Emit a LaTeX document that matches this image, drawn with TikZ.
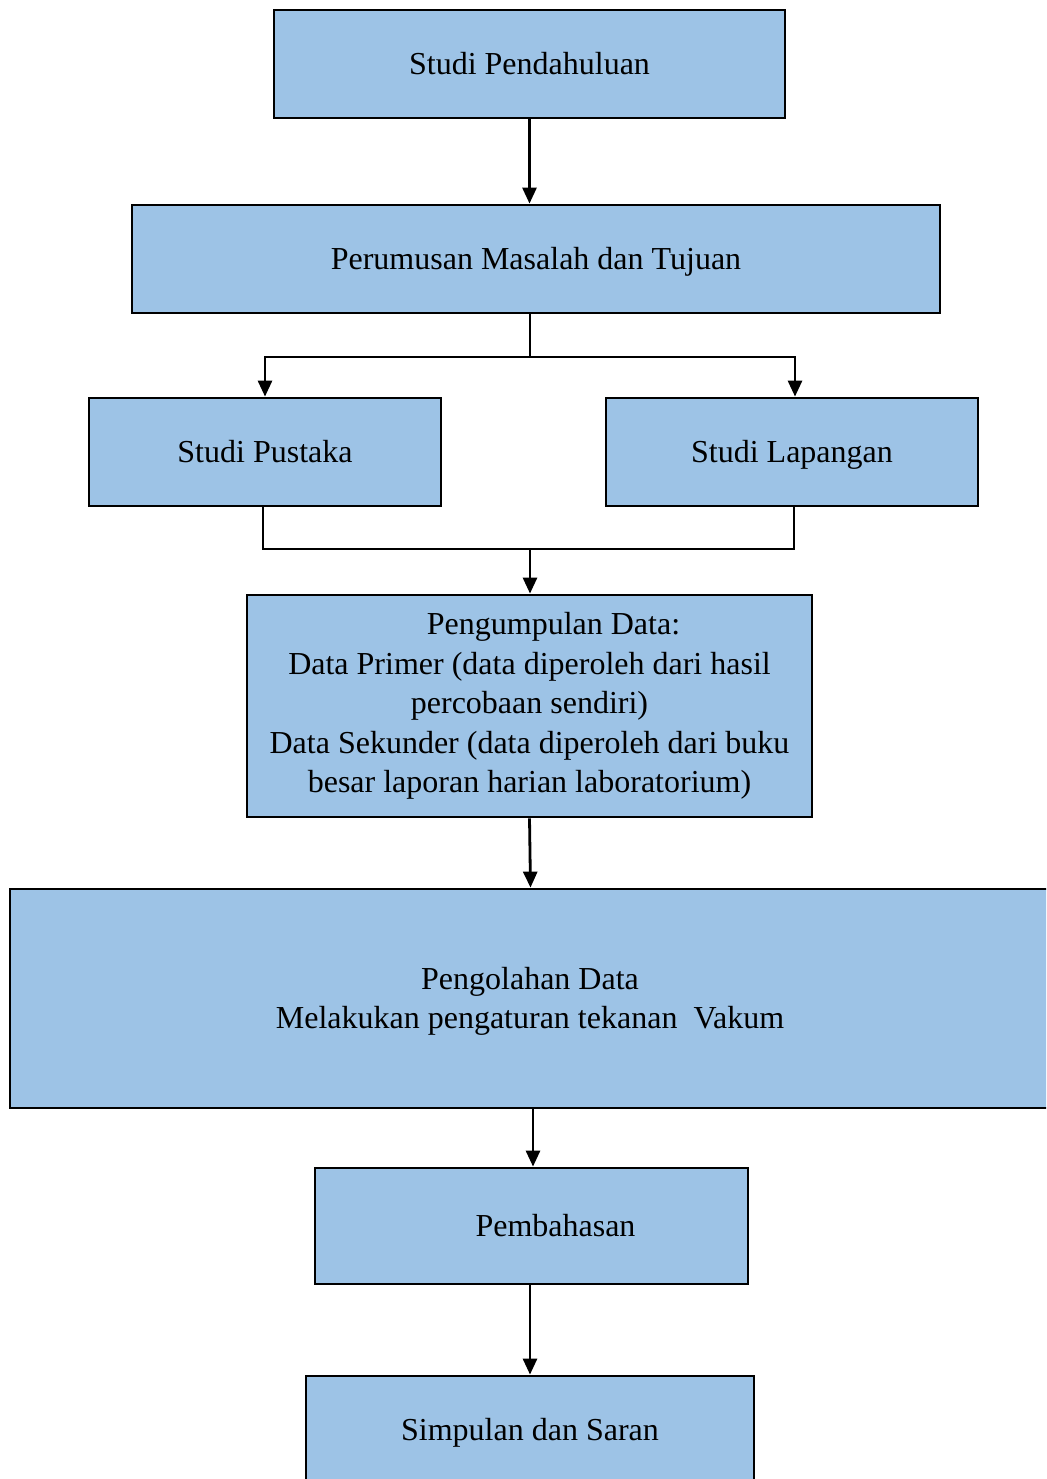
\documentclass[tikz,border=0pt]{standalone}
\usepackage{fontspec}
\setmainfont{Liberation Serif}
\usetikzlibrary{arrows.meta}
\definecolor{boxblue}{RGB}{157,195,230}
\begin{document}
\begin{tikzpicture}[x=1pt,y=-1pt,
  box/.style={draw=black, line width=2.8pt, fill=boxblue, inner sep=0pt, align=center,
    font=\fontsize{32}{39.5}\selectfont, text=black},
  onebox/.style={box, text height=27pt, text depth=6pt},
  conn/.style={line width=2.8pt, draw=black},
  arr/.style={conn, -{Triangle[width=14pt,length=16pt]}}]
\useasboundingbox (0,0) rectangle (1046,1479);
\clip (0,0) rectangle (1046,1479);
\node[onebox, minimum width=511pt, minimum height=108pt] (sp) at (529.5,64) {Studi Pendahuluan};
\node[onebox, minimum width=808pt, minimum height=108pt] (pm) at (536,259) {Perumusan Masalah dan Tujuan};
\node[onebox, minimum width=352pt, minimum height=108pt] (pus) at (265,452) {Studi Pustaka};
\node[onebox, minimum width=372pt, minimum height=108pt] (lap) at (792,452) {Studi Lapangan};
\node[box, minimum width=565pt, minimum height=222pt] (pd) at (529.5,706) {\hspace*{48pt}Pengumpulan Data:\\Data Primer (data diperoleh dari hasil\\percobaan sendiri)\\Data Sekunder (data diperoleh dari buku\\besar laporan harian laboratorium)};
\node[box, text depth=1pt, minimum width=1040pt, minimum height=219pt] (po) at (530,998.5) {Pengolahan Data\\Melakukan pengaturan tekanan\ \ Vakum};
\node[onebox, minimum width=433pt, minimum height=116pt] (pb) at (531.5,1226) {\hspace*{48pt}Pembahasan};
\node[onebox, minimum width=448pt, minimum height=108pt] (ss) at (530,1430) {Simpulan dan Saran};
\coordinate (j1) at (530,357);
\coordinate (j2) at (530,549);
\draw[arr] (sp.south) -- (sp.south |- pm.north);
\draw[conn] (j1 |- pm.south) -- (j1);
\draw[arr] (j1) -| (pus.north);
\draw[arr] (j1) -| ([xshift=3pt]lap.north);
\draw[conn] ([xshift=-2pt]pus.south) |- (j2) -| ([xshift=2pt]lap.south);
\draw[arr] (j2) -- (j2 |- pd.north);
\draw[arr] (pd.south) -- ([xshift=1pt]pd.south |- po.north);
\draw[arr] ([xshift=3pt]po.south) -- ([xshift=3pt]po.south |- pb.north);
\draw[arr] (pb.south -| ss.north) -- (ss.north);
\end{tikzpicture}
\end{document}
